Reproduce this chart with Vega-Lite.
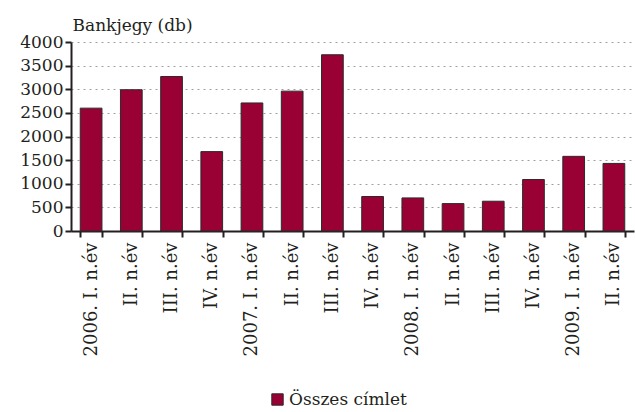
{
  "$schema": "https://vega.github.io/schema/vega-lite/v6.json",
  "width": 563,
  "height": 189,
  "autosize": {"type": "none"},
  "padding": {"left": 71, "top": 42, "right": 1, "bottom": 181},
  "background": "white",
  "data": {
    "values": [
      {"q": "2006. I. n.év", "v": 2600, "s": "Összes címlet"},
      {"q": "II. n.év ", "v": 2990, "s": "Összes címlet"},
      {"q": "III. n.év ", "v": 3270, "s": "Összes címlet"},
      {"q": "IV. n.év ", "v": 1680, "s": "Összes címlet"},
      {"q": "2007. I. n.év", "v": 2710, "s": "Összes címlet"},
      {"q": "II. n.év  ", "v": 2960, "s": "Összes címlet"},
      {"q": "III. n.év  ", "v": 3730, "s": "Összes címlet"},
      {"q": "IV. n.év  ", "v": 730, "s": "Összes címlet"},
      {"q": "2008. I. n.év", "v": 700, "s": "Összes címlet"},
      {"q": "II. n.év   ", "v": 580, "s": "Összes címlet"},
      {"q": "III. n.év   ", "v": 630, "s": "Összes címlet"},
      {"q": "IV. n.év   ", "v": 1090, "s": "Összes címlet"},
      {"q": "2009. I. n.év", "v": 1580, "s": "Összes címlet"},
      {"q": "II. n.év    ", "v": 1430, "s": "Összes címlet"}
    ]
  },
  "mark": {"type": "bar", "stroke": "#2b2b2b", "strokeWidth": 1},
  "encoding": {
    "x": {
      "field": "q",
      "type": "nominal",
      "sort": null,
      "scale": {"paddingInner": 0.46, "paddingOuter": 0.23},
      "axis": {
        "title": null,
        "labelAngle": -90,
        "labelAlign": "right",
        "labelBaseline": "middle",
        "labelFont": "DejaVu Serif",
        "labelFontSize": 18,
        "labelColor": "#231f20",
        "labelPadding": 5,
        "tickBand": "extent",
        "tickSize": 6,
        "tickWidth": 2,
        "tickColor": "#231f20",
        "domainColor": "#231f20",
        "domainWidth": 2,
        "grid": false
      }
    },
    "y": {
      "field": "v",
      "type": "quantitative",
      "scale": {"domain": [0, 4000], "nice": false},
      "axis": {
        "values": [0, 500, 1000, 1500, 2000, 2500, 3000, 3500, 4000],
        "format": "d",
        "title": "Bankjegy (db)",
        "titleAngle": 0,
        "titleAlign": "left",
        "titleBaseline": "alphabetic",
        "titleX": 1,
        "titleY": -12,
        "titleFont": "DejaVu Serif",
        "titleFontSize": 17,
        "titleFontWeight": "normal",
        "titleColor": "#231f20",
        "labelFont": "DejaVu Serif",
        "labelFontSize": 17,
        "labelColor": "#231f20",
        "labelPadding": 2,
        "tickSize": 6,
        "tickWidth": 2,
        "tickColor": "#231f20",
        "domain": true,
        "domainColor": "#231f20",
        "domainWidth": 2,
        "grid": true,
        "gridColor": "#a0a0a0",
        "gridDash": [2, 4],
        "gridWidth": 1
      }
    },
    "color": {
      "field": "s",
      "type": "nominal",
      "scale": {"range": ["#990033"]},
      "legend": {
        "title": null,
        "orient": "none",
        "legendX": 198,
        "legendY": 349,
        "symbolType": "square",
        "symbolSize": 130,
        "symbolStrokeColor": "#2b2b2b",
        "symbolStrokeWidth": 1,
        "labelFont": "DejaVu Serif",
        "labelFontSize": 17,
        "labelColor": "#231f20",
        "labelOffset": 3
      }
    }
  },
  "config": {"view": {"stroke": null}}
}
